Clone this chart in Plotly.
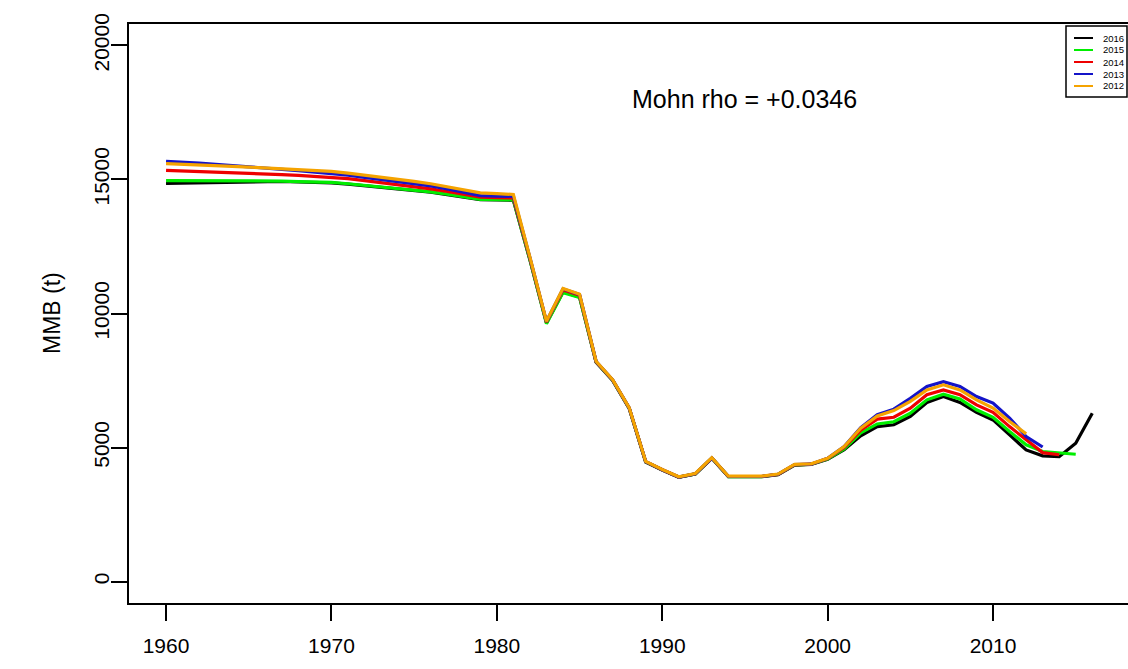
import plotly.graph_objects as go

# ---------------- data ----------------
years_2016 = list(range(1960, 2017))
mmb_2016 = [14850, 14860, 14870, 14880, 14890, 14900, 14930, 14925, 14905, 14895, 14875,
            14825, 14765, 14705, 14655, 14605, 14525, 14435, 14345, 14245, 14235, 14225,
            12000, 9650, 10800, 10620, 8180, 7500, 6460, 4460, 4160, 3890, 4010, 4600,
            3910, 3910, 3910, 3990, 4340, 4370, 4560,
            4920, 5440, 5780, 5850, 6160, 6680, 6900, 6680, 6310, 6030, 5470, 4910,
            4690, 4660, 5160, 6280]

years_2015 = list(range(1960, 2016))
mmb_2015 = [14960, 14960, 14960, 14960, 14960, 14960, 14950, 14940, 14920, 14910, 14890,
            14840, 14780, 14720, 14670, 14620, 14540, 14450, 14360, 14260, 14250, 14240,
            12000, 9620, 10780, 10600, 8190, 7510, 6470, 4465, 4165, 3895, 4015, 4605,
            3915, 3915, 3915, 3995, 4345, 4375, 4570,
            4950, 5550, 5880, 5960, 6280, 6780, 6990, 6810, 6410, 6130, 5600, 5100,
            4850, 4810, 4750]

years_2014 = list(range(1960, 2015))
mmb_2014 = [15340, 15320, 15300, 15280, 15260, 15240, 15210, 15180, 15150, 15120, 15090,
            15030, 14960, 14890, 14820, 14740, 14650, 14550, 14440, 14340, 14320, 14310,
            12050, 9680, 10880, 10680, 8200, 7520, 6480, 4470, 4170, 3900, 4020, 4610,
            3920, 3920, 3920, 4000, 4350, 4380, 4590,
            5000, 5650, 6060, 6130, 6470, 6970, 7150, 6970, 6590, 6310, 5780, 5290,
            4810, 4730]

years_2013 = list(range(1960, 2014))
mmb_2013 = [15680, 15660, 15610, 15560, 15520, 15470, 15420, 15380, 15330, 15280, 15230,
            15160, 15080, 15000, 14930, 14860, 14760, 14650, 14520, 14400, 14380, 14370,
            12080, 9700, 10920, 10710, 8210, 7520, 6480, 4470, 4170, 3900, 4020, 4610,
            3920, 3920, 3920, 4000, 4360, 4380, 4600,
            5040, 5740, 6230, 6430, 6840, 7280, 7460, 7280, 6900, 6660, 6100, 5410,
            5020]

years_2012 = list(range(1960, 2013))
mmb_2012 = [15590, 15570, 15540, 15510, 15490, 15460, 15430, 15400, 15370, 15340, 15300,
            15240, 15170, 15090, 15010, 14930, 14840, 14730, 14610, 14500, 14470, 14440,
            12100, 9710, 10930, 10720, 8220, 7530, 6490, 4480, 4180, 3910, 4030, 4620,
            3930, 3930, 3930, 4010, 4370, 4390, 4600,
            5040, 5720, 6180, 6380, 6720, 7150, 7340, 7150, 6780, 6470, 5970, 5510]

series_names = ["2016", "2015", "2014", "2013", "2012"]
series_colors = ["#000000", "#00EE00", "#EE0000", "#1414C8", "#F5A300"]
x_ticks = [1960, 1970, 1980, 1990, 2000, 2010]
x_tick_labels = ["1960", "1970", "1980", "1990", "2000", "2010"]
y_ticks = [0, 5000, 10000, 15000, 20000]
y_tick_labels = ["0", "5000", "10000", "15000", "20000"]
mohn_text = "Mohn rho = +0.0346"
y_title = "MMB (t)"

all_x = [years_2016, years_2015, years_2014, years_2013, years_2012]
all_y = [mmb_2016, mmb_2015, mmb_2014, mmb_2013, mmb_2012]

# ---------------- figure ----------------
W, H = 1128, 669
ML, MR, MT, MB = 129, 0, 24, 66
PW, PH = W - ML - MR, H - MT - MB

FONT = "Liberation Sans, Arial, sans-serif"

fig = go.Figure()
for xs, ys, name, col in zip(all_x, all_y, series_names, series_colors):
    fig.add_trace(go.Scatter(x=xs, y=ys, mode="lines", name=name,
                             line=dict(color=col, width=3.2), showlegend=False))

fig.update_layout(
    width=W, height=H,
    margin=dict(l=ML, r=MR, t=MT, b=MB, pad=0),
    paper_bgcolor="white", plot_bgcolor="white",
    font=dict(family=FONT, color="black"),
    xaxis=dict(range=[1957.76, 2018.16], tickvals=x_ticks, ticktext=x_tick_labels,
               ticks="outside", ticklen=16, tickwidth=1.5, tickcolor="black",
               showline=True, linecolor="black", linewidth=2, mirror=True,
               showgrid=False, zeroline=False, tickfont=dict(size=21),
               ticklabelstandoff=7),
    yaxis=dict(range=[-800, 20800], tickvals=y_ticks, ticktext=y_tick_labels,
               ticks="outside", ticklen=16, tickwidth=1.5, tickcolor="black",
               showline=True, linecolor="black", linewidth=2, mirror=False,
               showgrid=False, zeroline=False, tickfont=dict(size=21),
               tickangle=-90, ticklabelstandoff=-6),
)

# Mohn rho text in data coordinates
fig.add_annotation(x=1995, y=18000, xref="x", yref="y", text=mohn_text,
                   showarrow=False, font=dict(size=25, color="black"),
                   xanchor="center", yanchor="middle")


def px_x(p):
    return (p - ML) / PW


def px_y(p):
    return (H - MB - p) / PH


# y-axis title
fig.add_annotation(x=px_x(52), y=px_y(313), xref="paper", yref="paper",
                   text=y_title, textangle=-90, showarrow=False,
                   font=dict(size=23, color="black"),
                   xanchor="center", yanchor="middle")

# custom legend (top-right, inside plot)
fig.add_shape(type="rect", xref="paper", yref="paper",
              x0=px_x(1066), x1=px_x(1127), y0=px_y(97), y1=px_y(26),
              line=dict(color="black", width=1.5), fillcolor="white", layer="above")
for i, (name, col) in enumerate(zip(series_names, series_colors)):
    yy = 38 + 12 * i
    fig.add_shape(type="line", xref="paper", yref="paper",
                  x0=px_x(1074), x1=px_x(1093), y0=px_y(yy), y1=px_y(yy),
                  line=dict(color=col, width=2), layer="above")
    fig.add_annotation(x=px_x(1101), y=px_y(yy), xref="paper", yref="paper",
                       text=name, showarrow=False, xanchor="left", yanchor="middle",
                       font=dict(size=9.5, color="black"))

fig.write_html("out.html", config={"displayModeBar": False},
               post_script="document.body.style.margin='0';document.body.style.overflow='hidden';")
